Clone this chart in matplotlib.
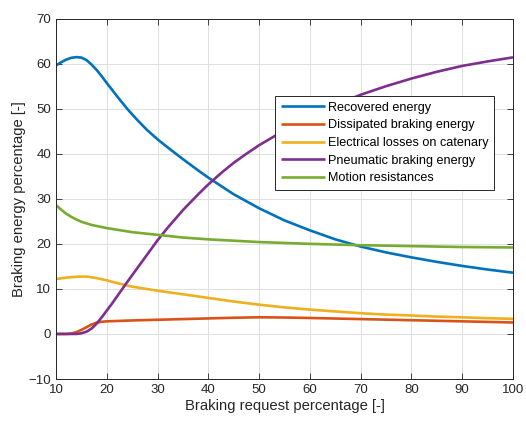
import matplotlib
matplotlib.use("Agg")
import matplotlib.pyplot as plt

plt.rcParams['font.family'] = ['Liberation Sans', 'DejaVu Sans']

x_rec = [10, 11, 12, 13, 14, 15, 16, 17, 18, 19, 20, 22, 24, 26, 28, 30, 32, 35, 38, 40, 45, 50, 55, 60, 65, 70, 75, 80, 85, 90, 95, 100]
recovered = [59.6, 60.3, 60.9, 61.3, 61.45, 61.35, 60.8, 59.8, 58.6, 57.2, 55.7, 52.8, 50.0, 47.5, 45.2, 43.2, 41.4, 38.8, 36.3, 34.7, 31.0, 27.9, 25.2, 23.0, 21.0, 19.4, 18.1, 17.0, 16.0, 15.1, 14.3, 13.6]

x_dis = [10, 12, 13, 14, 15, 16, 17, 18, 19, 20, 25, 30, 35, 40, 45, 50, 55, 60, 70, 80, 90, 100]
dissipated = [0, 0, 0.1, 0.4, 0.9, 1.5, 2.1, 2.5, 2.7, 2.8, 3.0, 3.15, 3.3, 3.45, 3.6, 3.7, 3.65, 3.55, 3.3, 3.05, 2.8, 2.55]

x_ele = [10, 12, 14, 16, 18, 20, 22, 25, 30, 35, 40, 45, 50, 55, 60, 65, 70, 75, 80, 85, 90, 95, 100]
electrical = [12.2, 12.5, 12.7, 12.75, 12.4, 11.9, 11.3, 10.5, 9.6, 8.8, 8.0, 7.2, 6.5, 5.9, 5.4, 5.0, 4.6, 4.3, 4.1, 3.85, 3.7, 3.5, 3.35]

x_pne = [10, 14, 15, 16, 17, 18, 19, 20, 21, 22, 24, 26, 28, 30, 32, 35, 38, 40, 42.5, 45, 47.5, 50, 55, 60, 65, 70, 75, 80, 85, 90, 95, 100]
pneumatic = [0, 0, 0.15, 0.5, 1.2, 2.3, 3.7, 5.2, 6.7, 8.3, 11.5, 14.6, 17.7, 20.8, 23.6, 27.5, 31.0, 33.2, 35.7, 38.0, 40.0, 41.9, 45.2, 48.1, 50.8, 53.1, 55.0, 56.7, 58.2, 59.5, 60.5, 61.4]

x_mot = [10, 11, 12, 13, 14, 15, 17, 20, 25, 30, 35, 40, 45, 50, 60, 70, 80, 90, 100]
motion = [28.6, 27.6, 26.7, 26.0, 25.4, 24.9, 24.2, 23.5, 22.6, 22.0, 21.4, 21.0, 20.7, 20.4, 20.0, 19.7, 19.5, 19.3, 19.2]

labels = ['Recovered energy', 'Dissipated braking energy', 'Electrical losses on catenary',
          'Pneumatic braking energy', 'Motion resistances']
colors = ['#0072BD', '#D95319', '#EDB120', '#7E2F8E', '#77AC30']

fig = plt.figure(figsize=(5.26, 4.23), dpi=100)
ax = fig.add_axes([0.1065, 0.104, 0.8688, 0.852])

series = [(x_rec, recovered), (x_dis, dissipated), (x_ele, electrical), (x_pne, pneumatic), (x_mot, motion)]
for (xs, ys), lab, c in zip(series, labels, colors):
    ax.plot(xs, ys, color=c, lw=1.9, label=lab, solid_capstyle='butt')

ax.set_xlim(10, 100)
ax.set_ylim(-10, 70)
ax.set_xticks(range(10, 101, 10))
ax.set_yticks(range(-10, 71, 10))
ax.grid(True, color='#dedede', lw=0.7)
ax.set_axisbelow(True)
ax.tick_params(direction='in', top=True, right=True, labelsize=9.5, colors='#262626', length=4, width=0.6)
for s in ax.spines.values():
    s.set_color('#262626')
    s.set_linewidth(0.7)

ax.set_xlabel('Braking request percentage [-]', fontsize=10.7, color='#262626', labelpad=2)
ax.set_ylabel('Braking energy percentage [-]', fontsize=10.7, color='#262626', labelpad=2)

leg = ax.legend(loc='upper left', bbox_to_anchor=(0.479, 0.785), borderaxespad=0, fontsize=9.05,
                fancybox=False, framealpha=1, edgecolor='#262626', handlelength=3.5,
                handletextpad=0.25, labelspacing=0.45, borderpad=0.45)
leg.get_frame().set_linewidth(0.7)

fig.savefig('out.png', dpi=100)
